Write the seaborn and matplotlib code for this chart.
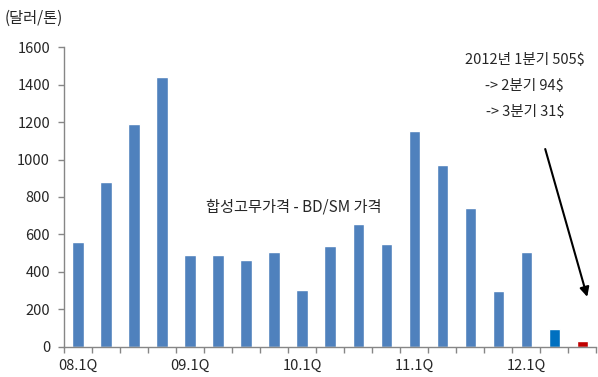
import numpy as np
import pandas as pd
import matplotlib
matplotlib.use("Agg")
import matplotlib.pyplot as plt
import seaborn as sns

quarters = ["08.1Q", "08.2Q", "08.3Q", "08.4Q",
            "09.1Q", "09.2Q", "09.3Q", "09.4Q",
            "10.1Q", "10.2Q", "10.3Q", "10.4Q",
            "11.1Q", "11.2Q", "11.3Q", "11.4Q",
            "12.1Q", "12.2Q", "12.3Q"]
spread = [560, 880, 1190, 1440,
          488, 488, 465, 508,
          305, 540, 657, 547,
          1150, 970, 740, 300,
          505, 94, 31]
shown_labels = ["08.1Q", "09.1Q", "10.1Q", "11.1Q", "12.1Q"]
bar_colors = ["#4F81BD"] * 17 + ["#0070C0", "#C00000"]

sns.set_style("white")
plt.rcParams["font.family"] = ["Noto Sans CJK KR", "DejaVu Sans"]

df = pd.DataFrame({"quarter": quarters, "spread": spread})

fig = plt.figure(figsize=(5.98, 3.77), dpi=100)
ax = fig.add_axes([0.107, 0.08, 0.89, 0.795])

sns.barplot(data=df, x="quarter", y="spread", hue="quarter",
            palette=bar_colors, legend=False, width=0.4,
            saturation=1, ax=ax)

ax.set_ylim(0, 1600)
ax.set_yticks(np.arange(0, 1601, 200))
ax.set_xlim(-0.5, len(quarters) - 0.5)
ax.set_xlabel("")
ax.set_ylabel("")

# labels only on each 1Q, tick marks on category boundaries
ax.set_xticks(range(len(quarters)))
ax.set_xticklabels([q if q in shown_labels else "" for q in quarters])
ax.set_xticks(np.arange(-0.5, len(quarters), 1), minor=True)
ax.tick_params(axis="x", which="major", bottom=True, length=0, pad=9, labelsize=10.5)
ax.tick_params(axis="x", which="minor", bottom=True, length=4, width=1,
               color="#868686", direction="out")
ax.tick_params(axis="y", left=True, length=4, width=1, color="#868686",
               direction="out", labelsize=10.5, pad=6)

for side in ["top", "right"]:
    ax.spines[side].set_visible(False)
for side in ["left", "bottom"]:
    ax.spines[side].set_color("#868686")
    ax.spines[side].set_linewidth(1)

fig.text(0.008, 0.952, "(달러/톤)", fontsize=11, va="center", ha="left")

ax.text(7.7, 747, "합성고무가격 - BD/SM 가격", fontsize=11, ha="center", va="center")
ax.text(15.95, 1531, "2012년 1분기 505$", fontsize=10.5, ha="center", va="center")
ax.text(15.95, 1392, "-> 2분기 94$", fontsize=10.5, ha="center", va="center")
ax.text(15.95, 1253, "-> 3분기 31$", fontsize=10.5, ha="center", va="center")

ax.annotate("", xy=(18.18, 267), xytext=(16.68, 1056),
            arrowprops=dict(arrowstyle="-|>", color="black", lw=1.5,
                            mutation_scale=14, shrinkA=0, shrinkB=0))

fig.savefig("out.png", dpi=100)
